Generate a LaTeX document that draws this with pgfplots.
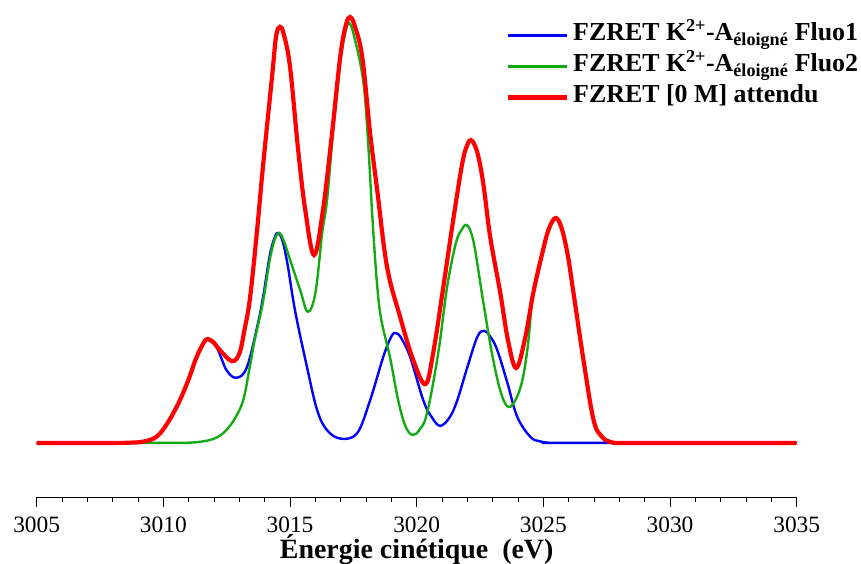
\documentclass[border=0pt]{standalone}
\usepackage{fontspec}
\setmainfont{Liberation Serif}
\usepackage{pgfplots}
\pgfplotsset{compat=1.18}
\definecolor{cblue}{RGB}{0,0,255}
\definecolor{cgreen}{RGB}{20,170,20}
\definecolor{cred}{RGB}{255,0,0}
\begin{document}
\begin{tikzpicture}
\begin{axis}[name=ax,
  scale only axis, width=760bp, height=497bp,
  xmin=3005, xmax=3035, ymin=-12.7, ymax=104,
  axis x line*=bottom, axis y line=none,
  xtick={3005,3010,...,3035}, minor x tick num=4,
  tick align=outside, xtick pos=bottom,
  major tick length=10bp, minor tick length=5bp,
  every tick/.style={black, line width=0.8bp},
  axis line style={black, line width=0.8bp},
  /pgf/number format/assume math mode=true,
  /pgf/number format/1000 sep={},
  ticklabel style={font=\fontsize{23.5}{25}\selectfont, yshift=-6bp},
  xlabel={\textbf{Énergie cinétique~ (eV)}},
  xlabel style={font=\fontsize{28}{30}\selectfont, yshift=5bp},
  legend cell align=left,
  legend style={draw=none, fill=none, inner sep=0pt, outer sep=0pt,
    at={(axis description cs:0.6175,0.9598)}, anchor=north west,
    font=\fontsize{26}{28}\selectfont\bfseries, column sep=2bp,
    nodes={text height=19bp, text depth=8bp, inner sep=2bp}},
  legend image code/.code={\draw[#1] (0bp,0bp) -- (59bp,0bp);},
  clip=false,
]
\addplot[cblue, line width=2.4bp, smooth, tension=0.6] coordinates {
(3005,0) (3008.0,0) (3008.6,0.05) (3009.2,0.3) (3009.74,1.5) (3010.2,5) (3010.65,10) (3011.0,15) (3011.3,20) (3011.6,23.5) (3011.76,24.2)
(3012.1,22.5) (3012.5,17) (3012.9,15.3) (3013.3,17.8) (3013.7,27.2) (3013.93,34) (3014.2,44) (3014.4,48.3) (3014.53,49.3)
(3014.7,47.5) (3014.9,42) (3015.2,31) (3015.67,17.8) (3016.07,7.7) (3016.46,3) (3017.0,1) (3017.65,2.3) (3018.16,10)
(3018.68,20.2) (3019.0,25) (3019.19,25.8) (3019.4,24.5) (3019.74,20.2) (3020.26,10) (3020.6,6) (3020.93,4.0) (3021.3,6) (3021.6,10)
(3022.0,17.8) (3022.4,25) (3022.67,26.3) (3022.9,25) (3023.18,21.8) (3023.58,14.1) (3023.97,6.1) (3024.49,1.4) (3024.85,0.4) (3025.2,0.05) (3025.8,0) (3035,0)
};
\addlegendentry{FZRET K\textsuperscript{2+}-A\textsubscript{éloigné} Fluo1}
\addplot[cgreen, line width=2.4bp, smooth, tension=0.6] coordinates {
(3005,0) (3010.5,0) (3011.0,0.05) (3011.5,0.3) (3012.0,1.0) (3012.4,2.5) (3012.8,5.5) (3013.15,10) (3013.4,17.5) (3013.6,24) (3013.93,33)
(3014.2,43) (3014.4,47.8) (3014.57,49.3) (3014.75,47.5) (3015.0,43) (3015.4,35.9) (3015.7,30.8) (3016.0,35.2) (3016.27,49.3) (3016.46,57)
(3016.7,73) (3016.98,89) (3017.15,95.5) (3017.33,98.6) (3017.55,95) (3017.9,84.5) (3018.1,68.8) (3018.25,53) (3018.43,37.6)
(3018.6,29) (3018.95,20) (3019.27,10) (3019.55,4) (3019.82,1.9) (3020.1,3) (3020.41,7) (3020.85,21.1)
(3021.2,36.6) (3021.55,47) (3021.8,50.3) (3021.96,51.2) (3022.12,49.8) (3022.3,45.5) (3022.63,33) (3023.02,19.5) (3023.38,10.8)
(3023.7,8.5) (3024.1,13.1) (3024.37,22) (3024.6,35.2) (3024.96,44.6) (3025.2,50) (3025.47,52.8) (3025.7,50.8) (3025.95,44.5)
(3026.19,35.2) (3026.6,18.8) (3026.98,5.4) (3027.3,1.5) (3027.65,0.2) (3028,0) (3029,0) (3035,0)
};
\addlegendentry{FZRET K\textsuperscript{2+}-A\textsubscript{éloigné} Fluo2}
\addplot[cred, line width=4.2bp, smooth, tension=0.6] coordinates {
(3005,0) (3008.0,0) (3008.6,0.05) (3009.2,0.3) (3009.74,1.5) (3010.2,5) (3010.65,10) (3011.0,15) (3011.3,20) (3011.6,23.6) (3011.76,24.4)
(3012.0,23.5) (3012.2,22) (3012.7,19.2) (3013.0,21) (3013.2,26.5) (3013.42,34) (3013.7,50) (3013.93,64.8) (3014.29,86)
(3014.45,95.5) (3014.6,97.7) (3014.75,96) (3015.0,88.3) (3015.32,68.8) (3015.6,54.7) (3015.95,44.1) (3016.3,54.7) (3016.66,72.8)
(3016.98,90.6) (3017.2,98) (3017.37,100) (3017.55,98) (3017.85,90.6) (3018.16,72.8) (3018.44,59.4) (3018.83,41.3) (3019.35,29.5)
(3019.86,19.5) (3020.34,13.8) (3020.65,21.1) (3021.05,36.6) (3021.44,52.3) (3021.8,65.7) (3022.0,70) (3022.14,71.1) (3022.3,69.8)
(3022.45,66.8) (3022.65,60) (3022.9,48.4) (3023.3,35.2) (3023.6,24.2) (3023.93,17.6) (3024.29,24.9) (3024.6,35.2)
(3024.96,44.6) (3025.2,50) (3025.47,52.8) (3025.7,50.8) (3025.95,44.5) (3026.19,35.2) (3026.6,18.8) (3026.98,5.4) (3027.3,1.5)
(3027.65,0.2) (3028,0) (3029,0) (3035,0)
};
\addlegendentry{FZRET [0 M] attendu}
\end{axis}
\pgfresetboundingbox
\path ([xshift=-36.7bp,yshift=-67bp]ax.south west) rectangle ([xshift=64.3bp]ax.north east);
\end{tikzpicture}
\end{document}
